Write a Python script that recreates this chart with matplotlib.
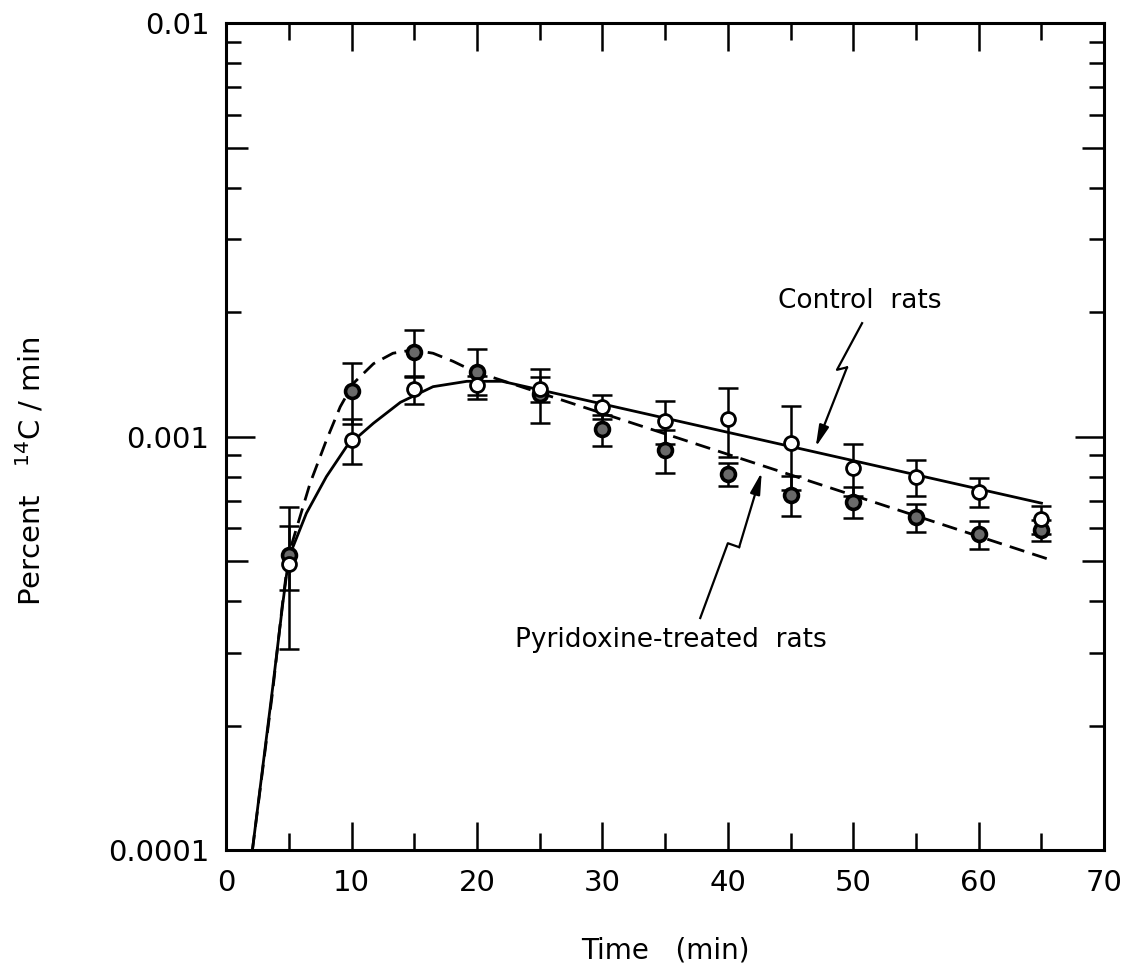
import numpy as np
import matplotlib
matplotlib.use("Agg")
import matplotlib.pyplot as plt
from matplotlib.ticker import LogLocator, FixedLocator, NullFormatter, FixedFormatter

plt.rcParams['font.family'] = ['DejaVu Sans']
plt.rcParams['mathtext.default'] = 'regular'

# measured points (min, percent 14C/min)
time = [5, 10, 15, 20, 25, 30, 35, 40, 45, 50, 55, 60, 65]
control = [4.91e-4, 9.8e-4, 1.30e-3, 1.33e-3, 1.30e-3, 1.18e-3, 1.09e-3,
           1.10e-3, 9.64e-4, 8.39e-4, 7.98e-4, 7.34e-4, 6.31e-4]
control_sd = [1.84e-4, 1.2e-4, 1.0e-4, 0.7e-4, 0.9e-4, 0.8e-4, 1.3e-4,
              2.1e-4, 2.2e-4, 1.2e-4, 0.8e-4, 0.6e-4, 0.5e-4]
pyridoxine = [5.16e-4, 1.29e-3, 1.60e-3, 1.43e-3, 1.27e-3, 1.04e-3, 9.27e-4,
              8.11e-4, 7.22e-4, 6.94e-4, 6.38e-4, 5.80e-4, 5.93e-4]
pyridoxine_sd = [0.9e-4, 2.2e-4, 2.1e-4, 2.0e-4, 1.9e-4, 0.9e-4, 1.1e-4,
                 0.5e-4, 0.8e-4, 0.6e-4, 0.5e-4, 0.45e-4, 0.35e-4]

# drawn curves
control_fit_t = [2.1, 3.7, 4.5, 5.0, 6.4, 8.0, 9.6, 11.75, 13.9, 16.5, 19.2, 22.0, 65.0]
control_fit_y = [1.0e-4, 2.45e-4, 3.9e-4, 5.1e-4, 6.52e-4, 8.0e-4, 9.45e-4,
                 1.077e-3, 1.21e-3, 1.32e-3, 1.36e-3, 1.36e-3, 6.9e-4]
pyr_fit_t = [2.1, 3.7, 4.5, 5.0, 6.7, 8.0, 9.1, 10.15, 11.75, 13.3, 14.9, 16.5, 18.1, 19.7, 66.0]
pyr_fit_y = [1.0e-4, 2.4e-4, 3.95e-4, 5.2e-4, 7.71e-4, 9.8e-4, 1.18e-3, 1.345e-3,
             1.50e-3, 1.59e-3, 1.62e-3, 1.59e-3, 1.52e-3, 1.44e-3, 5.0e-4]

fig = plt.figure(figsize=(11.36, 9.72), dpi=100)
ax = fig.add_axes([0.199, 0.1255, 0.773, 0.8508])

ax.plot(control_fit_t, control_fit_y, color='black', lw=2.0, zorder=2)
ax.plot(pyr_fit_t, pyr_fit_y, color='black', lw=2.0, dashes=(5.5, 3), zorder=2)

ax.errorbar(time, control, yerr=control_sd, fmt='none', ecolor='black',
            elinewidth=1.8, capsize=7, capthick=1.8, zorder=3)
ax.errorbar(time, pyridoxine, yerr=pyridoxine_sd, fmt='none', ecolor='black',
            elinewidth=1.8, capsize=7, capthick=1.8, zorder=3)
ax.plot(time, pyridoxine, 'o', ms=10, mfc='#6a6a6a', mec='black', mew=2.6, zorder=4)
ax.plot(time, control, 'o', ms=10, mfc='white', mec='black', mew=2, zorder=5)

ax.set_yscale('log')
ax.set_xlim(0, 70)
ax.set_ylim(1e-4, 1e-2)

ax.xaxis.set_major_locator(FixedLocator([0, 10, 20, 30, 40, 50, 60, 70]))
ax.xaxis.set_minor_locator(FixedLocator([5, 15, 25, 35, 45, 55, 65]))
ax.yaxis.set_major_locator(FixedLocator([1e-4, 1e-3, 1e-2]))
ax.yaxis.set_major_formatter(FixedFormatter(['0.0001', '0.001', '0.01']))
ax.yaxis.set_minor_locator(LogLocator(base=10, subs=[2, 3, 4, 5, 6, 7, 8, 9]))
ax.yaxis.set_minor_formatter(NullFormatter())

ax.tick_params(axis='x', which='major', direction='in', length=20, width=1.8,
               top=True, bottom=True, labelsize=21, pad=14)
ax.tick_params(axis='x', which='minor', direction='in', length=12, width=1.8,
               top=True, bottom=True)
ax.tick_params(axis='y', which='major', direction='in', length=21, width=1.8,
               left=True, right=True, labelsize=21, pad=12)
ax.tick_params(axis='y', which='minor', direction='in', length=11, width=1.8,
               left=True, right=True)
for s in ax.spines.values():
    s.set_linewidth(2.2)

ax.set_xlabel('Time   (min)', fontsize=20, labelpad=28)
fig.text(0.027, 0.515, 'Percent   $^{14}$C / min', fontsize=21, rotation=90,
         ha='center', va='center')

# annotations
ax.text(44.0, 2.05e-3, 'Control  rats', fontsize=19, ha='left', va='baseline')
ax.text(23.0, 3.10e-4, 'Pyridoxine-treated  rats', fontsize=19, ha='left', va='baseline')

ax.plot([50.7, 48.7, 49.5], [1.88e-3, 1.45e-3, 1.47e-3], color='black', lw=1.6)
ax.annotate('', xy=(47.0, 9.43e-4), xytext=(49.5, 1.47e-3),
            arrowprops=dict(arrowstyle='-|>,head_length=1.3,head_width=0.3',
                            color='black', lw=1.6, shrinkA=0, shrinkB=0))
ax.plot([37.8, 40.0, 40.9], [3.64e-4, 5.52e-4, 5.40e-4], color='black', lw=1.6)
ax.annotate('', xy=(42.7, 8.2e-4), xytext=(40.9, 5.40e-4),
            arrowprops=dict(arrowstyle='-|>,head_length=1.3,head_width=0.3',
                            color='black', lw=1.6, shrinkA=0, shrinkB=0))

# longer ticks at the 5 x 10^n positions
fig.canvas.draw()
locs = ax.yaxis.get_minorticklocs()
ticks = ax.yaxis.get_minor_ticks(len(locs))
for loc, t in zip(locs, ticks):
    m = loc / 10 ** np.floor(np.log10(loc) + 1e-9)
    if abs(m - 5) < 0.01:
        t.tick1line.set_markersize(16)
        t.tick2line.set_markersize(16)

fig.savefig('out.png', dpi=100)
